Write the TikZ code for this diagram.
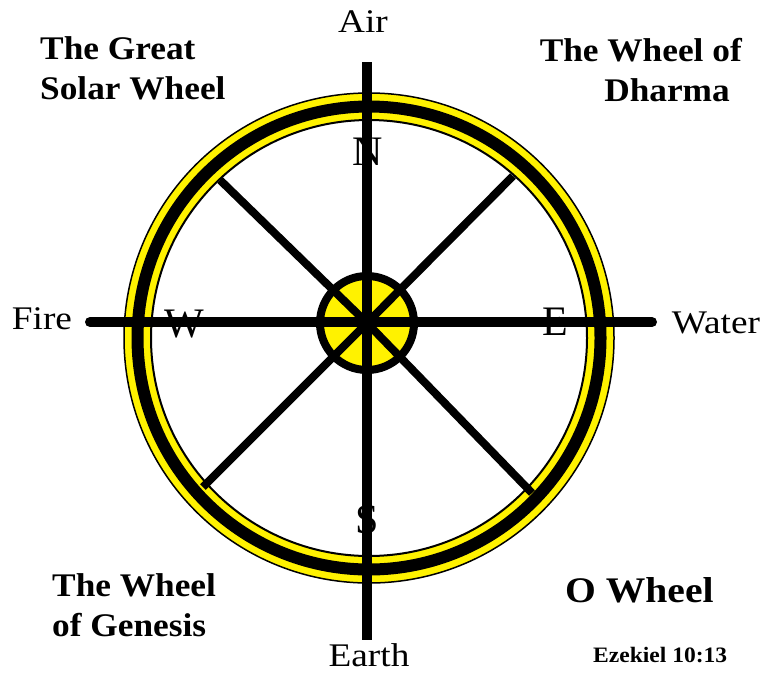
\documentclass[tikz,border=0pt]{standalone}
\usepackage{fontspec}
\setmainfont{Liberation Serif}
\newfontfamily\lblfont{Liberation Serif}[FakeStretch=1.07]
\newfontfamily\elemfont{Liberation Serif}[FakeStretch=1.13]
\newfontfamily\owfont{Liberation Serif}[FakeStretch=1.1]
\begin{document}
\begin{tikzpicture}[x=1pt,y=-1pt,
  lbl/.style={font=\lblfont\fontsize{33}{36}\selectfont\bfseries, inner sep=0pt},
  elem/.style={font=\elemfont\fontsize{33}{36}\selectfont, inner sep=0pt, anchor=base},
  dirl/.style={font=\fontsize{42}{42}\selectfont, inner sep=0pt, anchor=base},
  spokeline/.style={line width=8pt},
  axisline/.style={line width=10pt}]
\path[use as bounding box, fill=white] (0,0) rectangle (762,673);
\coordinate (rc) at (369,338);
\coordinate (hc) at (367,323);
% rim
\fill[yellow, even odd rule] (rc) circle (245pt) (rc) circle (218pt);
\draw[line width=12pt] (rc) circle (231.5pt);
\draw[line width=1.5pt] (rc) circle (245pt);
\draw[line width=2pt] (rc) circle (218pt);
% hub
\draw[line width=8pt, fill=yellow] (hc) circle (47pt);
% axes
\coordinate (nT) at (367,62);
\coordinate (sB) at (367,640);
\coordinate (wL) at (90,322);
\coordinate (eR) at (652,322);
\draw[axisline] (nT) -- (sB);
\draw[axisline, line cap=round] (wL) -- (eR);
% spokes
\coordinate (ul) at (220,180);
\coordinate (ur) at (513,176);
\coordinate (ll) at (203,487);
\coordinate (lr) at (532,493);
\draw[spokeline] (ul) -- (hc) -- (lr);
\draw[spokeline] (ur) -- (hc) -- (ll);
% compass letters
\node[dirl] (N) at (368,165) {N};
\node[dirl] (W) at (184,337) {W};
\node[dirl] (E) at (555,335) {E};
\node[dirl] (S) at (367,533) {S};
% elements
\node[elem] (air) at (363,32) {Air};
\node[elem] (fire) at (42,329) {Fire};
\node[elem] (water) at (716,333) {Water};
\node[elem] (earth) at (369,666) {Earth};
% titles
\node[lbl, anchor=base west] (gsw1) at (40,59) {The Great};
\node[lbl, anchor=base west] (gsw2) at (40,99) {Solar Wheel};
\node[lbl, anchor=base east] (wd1) at (742,61) {The Wheel of};
\node[lbl, anchor=base east] (wd2) at (730,101) {Dharma};
\node[lbl, anchor=base west] (wg1) at (52,596) {The Wheel};
\node[lbl, anchor=base west] (wg2) at (52,636) {of Genesis};
\node[font=\owfont\fontsize{36}{40}\selectfont\bfseries, inner sep=0pt, anchor=base west] (ow) at (565,602) {O Wheel};
\node[font=\lblfont\fontsize{22}{24}\selectfont\bfseries, inner sep=0pt, anchor=base west] (ez) at (593,662) {Ezekiel 10:13};
\end{tikzpicture}
\end{document}
